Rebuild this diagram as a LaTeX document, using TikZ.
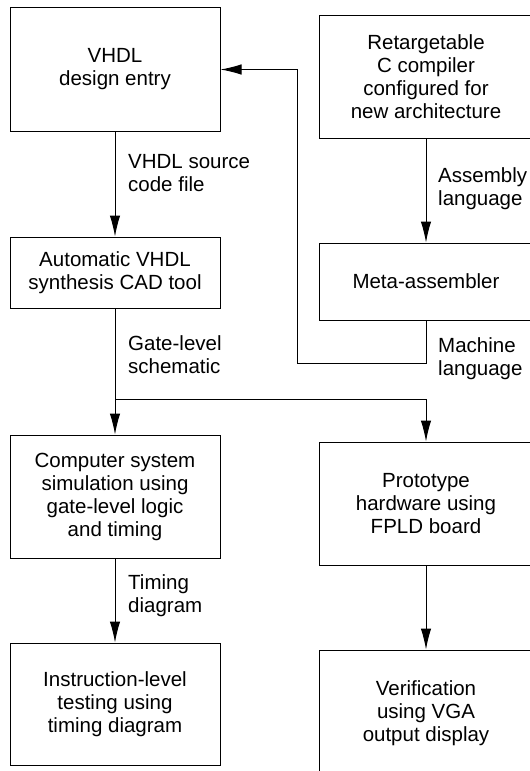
\documentclass[tikz,border=0pt]{standalone}
\usepackage{fontspec}
\setmainfont{Liberation Sans}
\usetikzlibrary{arrows.meta}
\tikzset{
  >={Latex[length=21pt,width=10.5pt]},
  every node/.style={font=\fontsize{20.5}{23}\selectfont},
  box/.style={draw,line width=1pt,minimum width=210pt,align=center,inner sep=0pt},
  widebox/.style={box,minimum width=214pt},
  arrow/.style={->,line width=1pt},
  label/.style={align=left,anchor=west,inner sep=0pt},
}

\begin{document}
\begin{tikzpicture}[x=1pt,y=-1pt]
  \clip (0,0) rectangle (530,771);
  \node[box,minimum height=124pt] (entry) at (115,69.5) {VHDL\\design entry};
  \node[box,minimum height=71pt] (synth) at (115,272.5) {Automatic VHDL\\synthesis CAD tool};
  \node[box,minimum height=123pt] (sim) at (115,496.5) {Computer system\\simulation using\\gate-level logic\\and timing};
  \node[box,minimum height=122pt] (test) at (115,704) {Instruction-level\\testing using\\timing diagram};

  \node[widebox,minimum height=123pt] (compiler) at (426,76.5) {Retargetable\\C compiler\\configured for\\new architecture};
  \node[widebox,minimum height=77pt] (asm) at (426,281.5) {Meta-assembler};
  \node[widebox,minimum height=123pt] (proto) at (426,503.5) {Prototype\\hardware using\\FPLD board};
  \node[widebox,minimum height=126pt] (verif) at (426,713) {Verification\\using VGA\\output display};

  \draw[arrow] (entry) -- (synth);
  \node[label] (srclbl) at (128,173) {VHDL source\\code file};
  \coordinate (split) at (115,399);
  \draw[arrow] (synth) -- (sim);
  \node[label] (gatelbl) at (128,355) {Gate-level\\schematic};
  \draw[arrow] (split) -| (proto);
  \draw[arrow] (sim) -- (test);
  \node[label] (timelbl) at (128,596) {Timing\\diagram};
  \draw[arrow] (proto) -- (verif);

  \draw[arrow] (compiler) -- (asm);
  \node[label] (asmlbl) at (438,189) {Assembly\\language};
  \coordinate (turn) at (297,363);
  \draw[arrow] (asm.south) |- (turn) |- (entry.east);
  \node[label] (machlbl) at (438,359) {Machine\\language};
\end{tikzpicture}
\end{document}
